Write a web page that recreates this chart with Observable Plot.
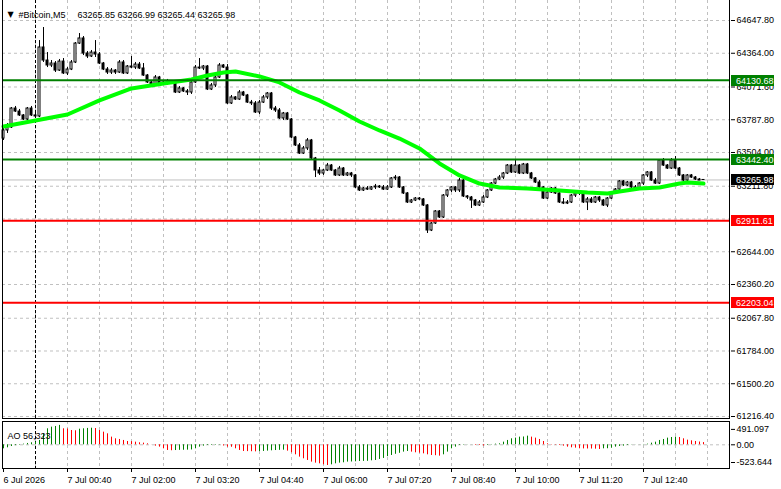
<!DOCTYPE html>
<html><head><meta charset="utf-8">
<script src="https://cdn.jsdelivr.net/npm/d3@7"></script>
<script src="https://cdn.jsdelivr.net/npm/@observablehq/plot@0.6"></script>
<style>
html,body{margin:0;padding:0;background:#fff;}
#chart{width:781px;height:489px;overflow:hidden;}
#chart svg{display:block;}
</style></head><body><div id="chart"></div>
<script>
// ---------- data ----------
const symbolTitle = "#Bitcoin,M5";
const quoteTitle = "63265.85 63266.99 63265.44 63265.98";
const aoTitle = "AO 56,323";

const opens = [63625,63695,63721,63885,63859,63825,63790,63885,63825,63816,
64414,64301,64258,64275,64214,64292,64189,64223,64284,64448,
64492,64362,64336,64370,64353,64275,64223,64197,64214,64197,
64284,64189,64249,64240,64266,64232,64171,64111,64093,64154,
64093,64111,64102,64099,64024,64059,64033,64024,64111,64240,
64232,64249,64050,64085,64154,64258,64240,63929,63981,63963,
64024,63998,63937,63929,63851,63937,63981,64015,63885,63868,
63799,63842,63790,63634,63565,63495,63539,63608,63452,63348,
63322,63348,63391,63348,63305,63365,63305,63322,63305,63201,
63175,63192,63183,63201,63209,63201,63183,63201,63279,63287,
63201,63149,63071,63088,63105,63097,63045,62828,62889,62993,
62941,63131,63175,63201,63175,63261,63123,63114,63088,63045,
63071,63114,63175,63235,63270,63287,63322,63391,63331,63391,
63322,63400,63322,63279,63244,63201,63105,63157,63192,63149,
63071,63062,63071,63131,63149,63157,63071,63097,63071,63114,
63088,63045,63105,63149,63183,63253,63218,63244,63201,63192,
63235,63305,63331,63261,63235,63435,63391,63365,63435,63365,
63305,63261,63305,63287,63270,63265.85];
const highs = [63712,63755,63894,63903,63877,63833,63894,63903,63842,64474,
64587,64370,64301,64292,64310,64318,64240,64301,64457,64535,
64509,64379,64388,64474,64370,64284,64240,64232,64223,64301,
64301,64258,64336,64284,64284,64275,64180,64128,64171,64163,
64119,64137,64119,64111,64076,64067,64050,64128,64258,64318,
64258,64258,64102,64171,64275,64266,64266,63998,63989,64041,
64033,64007,63955,63946,63955,63998,64024,64024,63903,63885,
63851,63851,63799,63643,63582,63556,63625,63617,63461,63374,
63357,63409,63400,63357,63383,63374,63331,63331,63313,63218,
63201,63209,63209,63227,63218,63218,63218,63287,63305,63296,
63209,63157,63097,63114,63114,63105,63053,62897,63001,63001,
63140,63183,63209,63209,63279,63270,63131,63123,63097,63088,
63131,63183,63244,63279,63305,63331,63400,63400,63435,63400,
63409,63409,63331,63287,63261,63209,63166,63201,63201,63157,
63105,63088,63140,63157,63175,63166,63114,63114,63123,63123,
63097,63114,63157,63192,63261,63261,63253,63253,63218,63244,
63313,63339,63339,63279,63443,63452,63400,63452,63469,63374,
63313,63313,63313,63296,63279,63266.99];
const lows = [63608,63669,63712,63851,63816,63781,63781,63816,63799,63807,
64284,64240,64240,64197,64206,64180,64171,64214,64275,64440,
64344,64318,64327,64327,64266,64214,64180,64180,64180,64189,
64180,64180,64232,64223,64223,64163,64102,64076,64085,64085,
64093,64085,64093,64015,64015,64024,63998,64007,64102,64223,
64214,64041,64041,64067,64145,64232,63920,63920,63955,63955,
63989,63929,63911,63842,63833,63929,63963,63868,63851,63790,
63781,63781,63625,63556,63487,63487,63521,63443,63287,63305,
63305,63339,63339,63296,63296,63296,63296,63287,63192,63166,
63166,63175,63175,63183,63192,63175,63175,63192,63261,63192,
63140,63062,63062,63079,63088,63036,62802,62819,62880,62932,
62932,63114,63157,63157,63157,63114,63097,63019,63036,63036,
63062,63105,63166,63227,63261,63270,63313,63322,63322,63313,
63313,63313,63270,63235,63192,63097,63097,63149,63140,63062,
63053,63053,63062,63114,63131,63062,63001,63062,63062,63071,
63036,63027,63097,63140,63175,63209,63209,63192,63183,63183,
63218,63287,63253,63227,63227,63383,63357,63357,63357,63296,
63253,63253,63279,63261,63261,63265.44];
const closes = [63695,63721,63885,63859,63825,63790,63885,63825,63816,64414,
64301,64258,64275,64214,64292,64189,64223,64284,64448,64492,
64362,64336,64370,64353,64275,64223,64197,64214,64197,64284,
64189,64249,64240,64266,64232,64171,64111,64093,64154,64093,
64111,64102,64099,64024,64059,64033,64024,64111,64240,64232,
64249,64050,64085,64154,64258,64240,63929,63981,63963,64024,
63998,63937,63929,63851,63937,63981,64015,63885,63868,63799,
63842,63790,63634,63565,63495,63539,63608,63452,63348,63322,
63348,63391,63348,63305,63365,63305,63322,63305,63201,63175,
63192,63183,63201,63209,63201,63183,63201,63279,63287,63201,
63149,63071,63088,63105,63097,63045,62828,62889,62993,62941,
63131,63175,63201,63175,63261,63123,63114,63088,63045,63071,
63114,63175,63235,63270,63287,63322,63391,63331,63391,63322,
63400,63322,63279,63244,63201,63105,63157,63192,63149,63071,
63062,63071,63131,63149,63157,63071,63097,63071,63114,63088,
63045,63105,63149,63183,63253,63218,63244,63201,63192,63235,
63305,63331,63261,63235,63435,63391,63365,63435,63365,63305,
63261,63305,63287,63270,63261,63265.98];

// moving average read at selected bars
const maBars = [0,8,16,24,32,40,47,51,55,58,64,69,74,79,84,89,94,99,104,106,109,114,119,124,131,139,146,151,154,159,164,169,171,175];
const maValues = [63729,63781,63833,63955,64059,64102,64137,64171,64197,64206,64163,64111,64024,63955,63868,63773,63695,63625,63539,63487,63409,63305,63235,63201,63192,63175,63157,63149,63166,63192,63201,63235,63244,63235];

// Awesome Oscillator
const aoValues = [-101,-76,-42,-22,-12,17,34,51,67,110,
278,405,447,464,491.097,405,400,362,355,395,
405,415,420,412,362,320,278,194,152,135,
110,84,80,67,51,42,25,3,-34,-59,
-101,-143,-150,-145,-140,-138,-135,-130,-101,-59,
-34,-17,-15,-12,-8,-30,-59,-62,-101,-143,
-169,-172,-175,-178,-172,-168,-160,-152,-145,-140,
-136,-160,-202,-253,-312,-354,-396,-438,-464,-481,
-506,-523.644,-506,-481,-464,-455,-438,-435,-430,-422,
-420,-418,-405,-396,-371,-345,-300,-270,-240,-215,
-185,-169,-185,-202,-211,-228,-253,-270,-275,-287,
-253,-185,-101,-59,-17,-10,-4,-2,-15,-17,
-30,-17,8,17,25,67,110,152,169,194,
198,219,194,169,135,84,25,-8,-10,-17,
-34,-59,-76,-84,-101,-103,-105,-107,-110,-118,
-101,-99,-84,-59,-42,-34,-17,-5,-3,2,
8,17,42,67,110,135,169,185,194,185,
152,118,101,84,70,56.323];

const greenLevels = [64130.68, 63442.40];
const redLevels = [62911.61, 62203.04];
const currentPrice = 63265.98;

const priceTicks = [64647.80,64364.00,64071.60,63787.80,63504.00,63211.80,62928.00,62644.00,62360.20,62067.80,61784.00,61500.20,61216.40];
const aoTicks = [491.097, 0, -523.644];
const aoTickLabels = ["491.097", "0.00", "-523.644"];
const timeTicks = [0,16,32,48,64,80,96,112,128,144,160];
const timeLabels = ["6 Jul 2026","7 Jul 00:40","7 Jul 02:00","7 Jul 03:20","7 Jul 04:40","7 Jul 06:00","7 Jul 07:20","7 Jul 08:40","7 Jul 10:00","7 Jul 11:20","7 Jul 12:40"];
const dayStartBar = 8; // 7 Jul 00:00
const barCount = 176;

// ---------- build ----------
const FONT = "'Liberation Sans', Arial, sans-serif";
const bars = opens.map((o, i) => ({i, open: o, high: highs[i], low: lows[i], close: closes[i]}));
const ma = maBars.map((b, k) => ({i: b, v: maValues[k]}));
const ao = aoValues.map((v, i) => ({i, v, up: i === 0 || v > aoValues[i - 1]}));
const gridBars = d3.range(8, barCount + 1, 8);
const boxes = [
  ...greenLevels.map(v => ({v, color: "#008000"})),
  {v: currentPrice, color: "#000000"},
  ...redLevels.map(v => ({v, color: "#ff0000"}))
];

function frameMark(sides) {
  return (index, scales, values, dim) => {
    const g = d3.create("svg:g").attr("fill", "none").attr("stroke", "black");
    const l = dim.marginLeft + 0.5, r = dim.width - dim.marginRight - 0.5;
    const t = dim.marginTop + 0.5, b = dim.height - dim.marginBottom - 0.5;
    if (sides.includes("left")) g.append("line").attr("x1", l).attr("x2", l).attr("y1", dim.marginTop).attr("y2", b + 0.5);
    if (sides.includes("right")) g.append("line").attr("x1", r).attr("x2", r).attr("y1", dim.marginTop).attr("y2", b + 0.5);
    if (sides.includes("bottom")) g.append("line").attr("x1", l - 0.5).attr("x2", r + 0.5).attr("y1", b).attr("y2", b);
    if (sides.includes("top")) g.append("line").attr("x1", l - 0.5).attr("x2", r + 0.5).attr("y1", t).attr("y2", t);
    return g.node();
  };
}

const priceBoxes = (index, scales, values, dim) => {
  const g = d3.create("svg:g");
  const x0 = dim.width - dim.marginRight + 1;
  boxes.forEach(({v, color}) => {
    const yc = Math.round(scales.y(v));
    g.append("rect").attr("x", x0).attr("y", yc - 5).attr("width", 43).attr("height", 11).attr("fill", color);
    g.append("text").attr("x", x0 + 5).attr("y", yc + 0.5).attr("dy", "0.35em")
      .attr("text-anchor", "start").attr("fill", "white").attr("font-size", 9).text(v.toFixed(2));
  });
  return g.node();
};

const styleObj = {fontFamily: FONT, fontSize: "9px", color: "black", background: "white"};

const main = Plot.plot({
  width: 781, height: 420,
  marginLeft: 2, marginRight: 51, marginTop: 0, marginBottom: 1,
  style: styleObj,
  x: {domain: [0, barCount], range: [3, 707], axis: null, label: null},
  y: {domain: [61216.4, 64647.8], range: [416, 20], label: null},
  marks: [
    Plot.ruleX(gridBars, {stroke: "#c0c0c0", strokeDasharray: "3,3"}),
    Plot.ruleY(priceTicks, {stroke: "#c0c0c0", strokeDasharray: "3,3"}),
    Plot.ruleX([dayStartBar], {stroke: "black", strokeDasharray: "3,2"}),
    Plot.ruleY([currentPrice], {stroke: "#c0c0c0"}),
    Plot.ruleX(bars, {x: "i", y1: "low", y2: "high", stroke: "black"}),
    Plot.rect(bars, {x1: d => d.i - 0.25, x2: d => d.i + 0.25, y1: "open", y2: "close",
      fill: d => d.close > d.open ? "white" : "black", stroke: "black"}),
    Plot.line(ma, {x: "i", y: "v", stroke: "#00ff00", strokeWidth: 4}),
    Plot.ruleY(greenLevels, {stroke: "#008000", strokeWidth: 2}),
    Plot.ruleY(redLevels, {stroke: "#ff0000", strokeWidth: 2}),
    Plot.text(["▼"], {text: d => d, frameAnchor: "top-left", dx: 8, dy: 11, textAnchor: "middle", fontSize: 8, fontFamily: "DejaVu Sans", fill: "black"}),
    Plot.text([symbolTitle], {text: d => d, frameAnchor: "top-left", dx: 16, dy: 11, textAnchor: "start", fill: "black"}),
    Plot.text([quoteTitle], {text: d => d, frameAnchor: "top-left", dx: 75, dy: 11, textAnchor: "start", fill: "black"}),
    Plot.axisY(priceTicks, {anchor: "right", tickSize: 4, tickPadding: 2, tickFormat: d => d.toFixed(2), label: null}),
    frameMark(["left", "right", "bottom"]),
    priceBoxes
  ]
});

const aoPlot = Plot.plot({
  width: 781, height: 69,
  marginLeft: 2, marginRight: 51, marginTop: 1, marginBottom: 20,
  style: styleObj,
  x: {domain: [0, barCount], range: [3, 707], label: null},
  y: {domain: [-523.644, 491.097], range: [45, 4.9], label: null},
  marks: [
    Plot.ruleX(gridBars, {stroke: "#c0c0c0", strokeDasharray: "3,3"}),
    Plot.ruleY([0], {stroke: "#c0c0c0", strokeDasharray: "3,3"}),
    Plot.ruleX([dayStartBar], {stroke: "black", strokeDasharray: "3,2"}),
    Plot.ruleX(ao.filter(d => d.up), {x: "i", y1: 0, y2: "v", stroke: "#008000"}),
    Plot.ruleX(ao.filter(d => !d.up), {x: "i", y1: 0, y2: "v", stroke: "#ff0000"}),
    Plot.text([aoTitle], {text: d => d, frameAnchor: "top-left", dx: 5, dy: 11, textAnchor: "start", fill: "black"}),
    Plot.axisX(timeTicks, {anchor: "bottom", tickSize: 3, tickPadding: 4, textAnchor: "start",
      tickFormat: d => timeLabels[timeTicks.indexOf(d)], label: null}),
    Plot.axisY([aoTicks[0]], {anchor: "right", tickSize: 4, tickPadding: 2, dy: 4, tickFormat: () => aoTickLabels[0], label: null}),
    Plot.axisY([aoTicks[1]], {anchor: "right", tickSize: 4, tickPadding: 2, tickFormat: () => aoTickLabels[1], label: null}),
    Plot.axisY([aoTicks[2]], {anchor: "right", tickSize: 4, tickPadding: 2, dy: -3, tickFormat: () => aoTickLabels[2], label: null}),
    frameMark(["left", "right", "bottom", "top"])
  ]
});

const root = document.getElementById("chart");
root.appendChild(main);
root.appendChild(aoPlot);
</script>
</body></html>
